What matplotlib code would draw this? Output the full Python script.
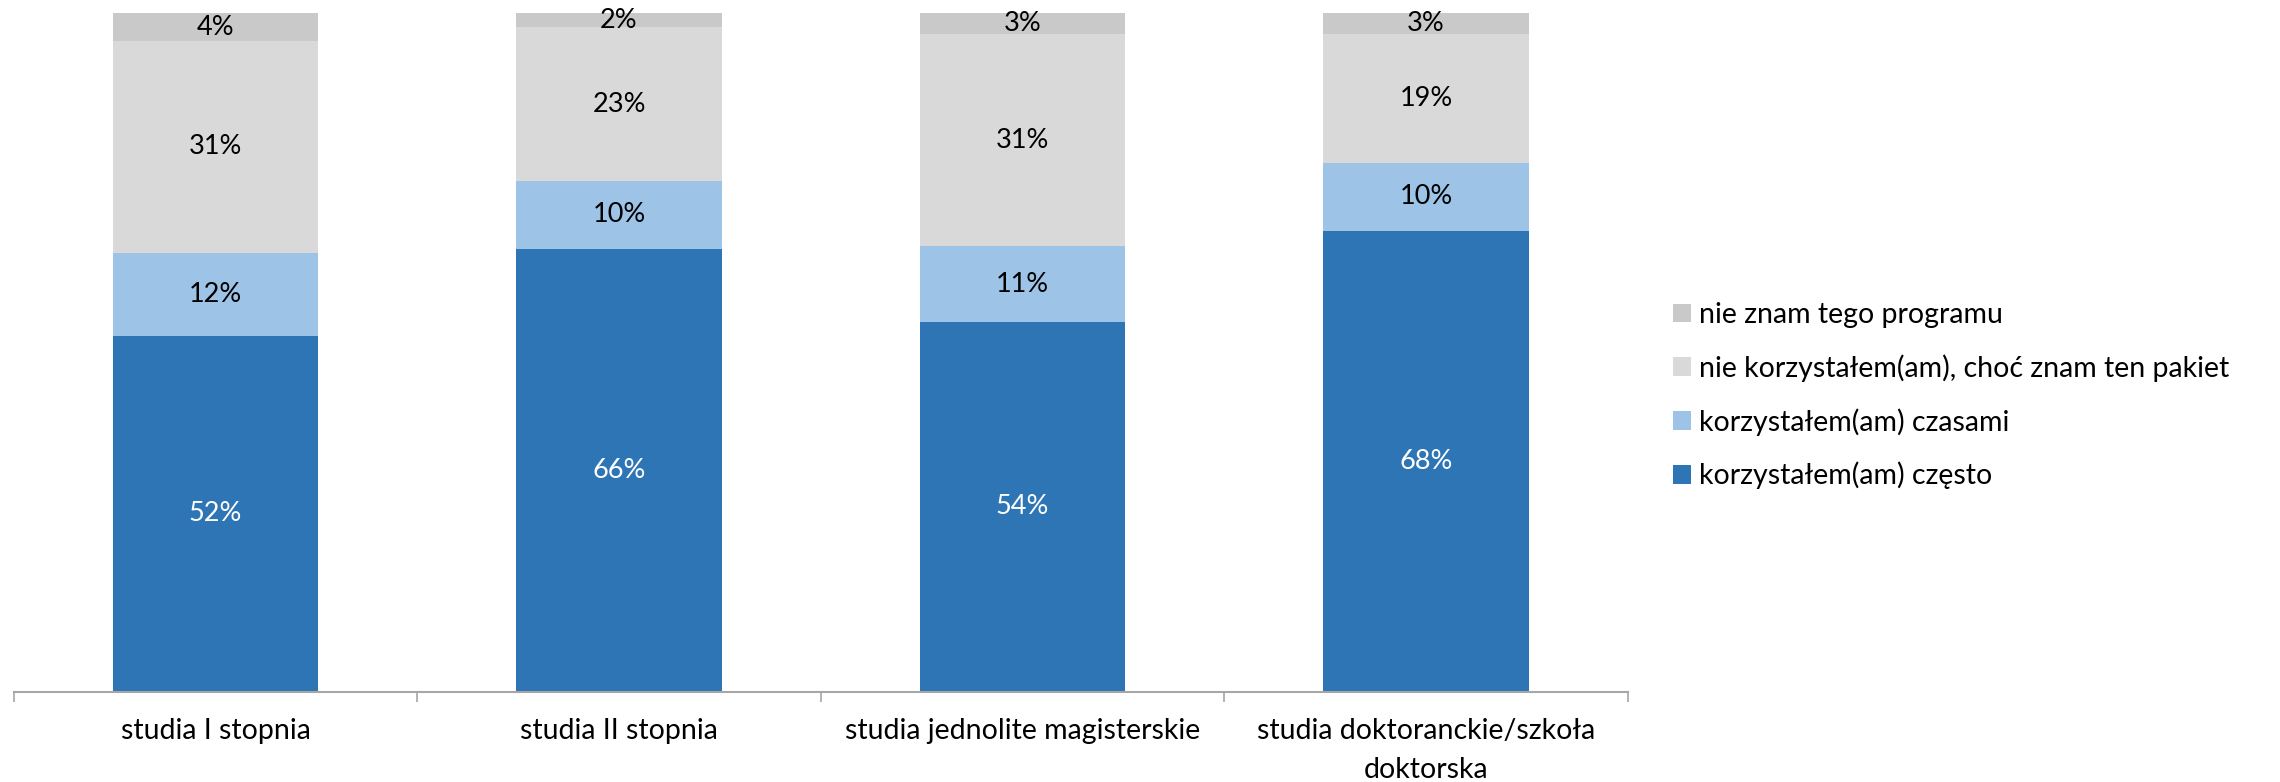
"""Stacked 100% bars: use of the package by study level"""

import numpy as np
import matplotlib
matplotlib.use('Agg')
import matplotlib.pyplot as plt
from matplotlib.ticker import FixedLocator

plt.rcParams['font.family'] = ['Lato', 'DejaVu Sans']

categories = ['studia I stopnia', 'studia II stopnia',
              'studia jednolite magisterskie',
              'studia doktoranckie/szkoła\ndoktorska']
series_names = ['korzystałem(am) często', 'korzystałem(am) czasami',
                'nie korzystałem(am), choć znam ten pakiet',
                'nie znam tego programu']
czesto = [52, 66, 54, 68]
czasami = [12, 10, 11, 10]
nie_korzystalem = [31, 23, 31, 19]
nie_znam = [4, 2, 3, 3]

colors = ['#2E75B6', '#9DC3E6', '#D9D9D9', '#C9C9C9']
label_colors = ['white', 'black', 'black', 'black']
FS_BAR = 19.5
FS = 20.5

values = np.array([czesto, czasami, nie_korzystalem, nie_znam], dtype=float)
shares = values / values.sum(axis=0)  # 100% stacked, like Excel

fig = plt.figure(figsize=(22.8, 7.82), dpi=100)
ax = fig.add_axes([0.006, 0.115, 0.708, 0.868])

x = np.arange(len(categories))
bottom = np.zeros(len(categories))
handles = []
for i, name in enumerate(series_names):
    bars = ax.bar(x, shares[i], 0.51, bottom=bottom, color=colors[i],
                  label=name, linewidth=0)
    handles.append(bars)
    for xi, b, h, v in zip(x, bottom, shares[i], values[i]):
        ax.text(xi, b + h / 2, f'{v:.0f}%', ha='center', va='center',
                fontsize=FS_BAR, color=label_colors[i])
    bottom += shares[i]

ax.set_xlim(-0.5, len(categories) - 0.5)
ax.set_ylim(0, 1)
ax.set_yticks([])
for s in ['top', 'right', 'left']:
    ax.spines[s].set_visible(False)
ax.spines['bottom'].set_color('#A6A6A6')
ax.spines['bottom'].set_linewidth(1.5)

ax.set_xticks(x)
ax.set_xticklabels(categories, fontsize=FS, linespacing=1.58)
ax.tick_params(axis='x', which='major', length=0, pad=19)
ax.xaxis.set_minor_locator(FixedLocator(np.arange(-0.5, len(categories), 1)))
ax.tick_params(axis='x', which='minor', length=7, width=1.2, color='#A6A6A6')

fig.legend(handles[::-1], series_names[::-1], loc='center left',
           bbox_to_anchor=(0.7225, 0.494), frameon=False, fontsize=FS,
           handlelength=0.63, handleheight=0.63, handletextpad=0.28,
           labelspacing=0.92)

fig.savefig('out.png', dpi=100)
